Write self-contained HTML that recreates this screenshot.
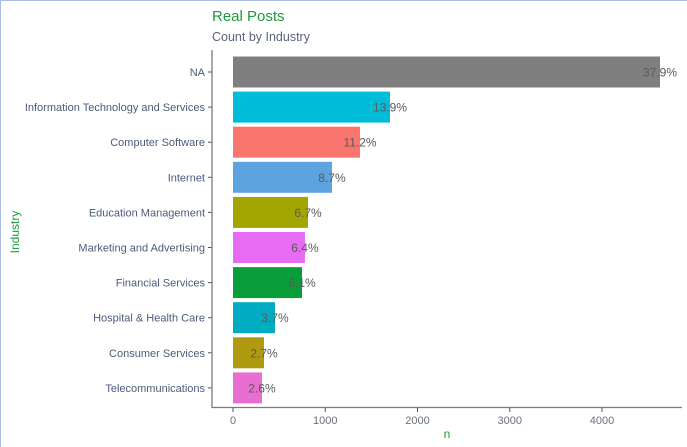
<!DOCTYPE html>
<html><head><meta charset="utf-8"><style>
html,body{margin:0;padding:0;background:#fff;}
body{width:687px;height:447px;overflow:hidden;font-family:"Liberation Sans",sans-serif;}
svg{display:block;}
</style></head><body>
<svg id="chart" width="687" height="447">
  <rect x="0" y="0" width="687" height="447" fill="#fff"/>
  <line x1="0" y1="0.5" x2="687" y2="0.5" stroke="#a9bde0"/>
  <line x1="0.5" y1="0" x2="0.5" y2="447" stroke="#a9bde0"/>
  <text x="212" y="21" font-size="15" fill="#1f9a3a">Real Posts</text>
  <text x="212" y="41" font-size="12.5" fill="#5a6478">Count by Industry</text>
  <g id="bars"></g>
  <g id="axes"></g>
  <text x="447" y="438" font-size="12" fill="#1f9a3a" text-anchor="middle">n</text>
  <text transform="translate(19,232) rotate(-90)" font-size="12" fill="#1f9a3a" text-anchor="middle">Industry</text>
</svg>
<script>
const categories = ["NA","Information Technology and Services","Computer Software","Internet","Education Management","Marketing and Advertising","Financial Services","Hospital & Health Care","Consumer Services","Telecommunications"];
const counts = [4629,1702,1377,1073,813,780,748,455,336,314];
const pctLabels = ["37.9%","13.9%","11.2%","8.7%","6.7%","6.4%","6.1%","3.7%","2.7%","2.6%"];
const colors = ["#7f7f7f","#00bcd8","#f8766d","#5da3e0","#a3a500","#e76bf3","#0a9e3a","#00acc1","#b09a10","#e86fd0"];
const xTicks = [0,1000,2000,3000,4000];

const NS="http://www.w3.org/2000/svg";
function mk(t,a,p){const e=document.createElementNS(NS,t);for(const k in a)e.setAttribute(k,a[k]);p.appendChild(e);return e;}
const x0=233, pxPer=369/4000;
function xScale(v){return x0+v*pxPer;}
const top0=72, step=35.1;
function yScale(i){return top0+i*step;}
const barH=31;
const gb=document.getElementById('bars'), ga=document.getElementById('axes');

categories.forEach((c,i)=>{
  const y=yScale(i);
  const r=mk('rect',{x:xScale(0),y:y-barH/2,width:xScale(counts[i])-xScale(0),height:barH,fill:colors[i]},gb);
  
  
  const t=mk('text',{x:xScale(counts[i]),y:y+4.5,'font-size':12,fill:'#5a5a5a','text-anchor':'middle'},gb);
  t.textContent=pctLabels[i];
  
  
  const l=mk('text',{x:205,y:y+4,'font-size':11,fill:'#4d5b7a','text-anchor':'end'},ga);
  l.textContent=c;
  
  
  const tk=mk('line',{x1:208,x2:212,y1:y,y2:y,stroke:'#555'},ga);
  
  
});
const ya=mk('line',{x1:212,x2:212,y1:50,y2:408,stroke:'#7a7a7a','stroke-width':1.3},ga);


const xa=mk('line',{x1:212,x2:682,y1:407.5,y2:407.5,stroke:'#7a7a7a','stroke-width':1.3},ga);


xTicks.forEach((v,i)=>{
  const x=xScale(v);
  const tk=mk('line',{x1:x,x2:x,y1:408,y2:412,stroke:'#555'},ga);
  
  
  const t=mk('text',{x:x,y:424,'font-size':11,fill:'#6a7080','text-anchor':'middle'},ga);
  t.textContent=v;
  
  
});
</script>
</body></html>
